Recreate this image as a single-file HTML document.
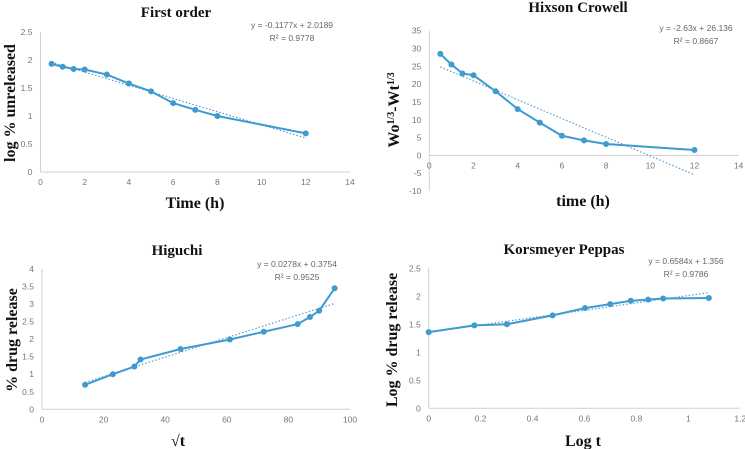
<!DOCTYPE html>
<html><head><meta charset="utf-8"><style>
body{margin:0;background:#fff;width:745px;height:449px;overflow:hidden}
svg{display:block}
.tick{font-family:"Liberation Sans",sans-serif;font-size:8.5px;fill:#777}
.title{font-family:"Liberation Serif",serif;font-weight:bold;font-size:15px;fill:#111}
.axt{font-family:"Liberation Serif",serif;font-weight:bold;font-size:16px;fill:#111}
.eq{font-family:"Liberation Sans",sans-serif;font-size:8.5px;fill:#666}
</style></head><body>
<svg id="s" width="745" height="449"></svg>
<script>
// First order
const foX=[0.5,1,1.5,2,3,4,5,6,7,8,12];
const foY=[1.93,1.88,1.84,1.83,1.74,1.58,1.44,1.23,1.11,1.0,0.69];
const foXTicks=[0,2,4,6,8,10,12,14];
const foYTicks=[0,0.5,1,1.5,2,2.5];
const foTrend=[-0.1177,2.0189];
// Hixson Crowell
const hcX=[0.5,1,1.5,2,3,4,5,6,7,8,12];
const hcY=[28.5,25.5,23,22.5,18,13,9.2,5.5,4.2,3.2,1.5];
const hcXTicks=[0,2,4,6,8,10,12,14];
const hcYTicks=[-10,-5,0,5,10,15,20,25,30,35];
const hcTrend=[-2.63,26.136];
// Higuchi
const hgX=[14,23,30,32,45,61,72,83,87,90,95];
const hgY=[0.7,1.0,1.22,1.42,1.72,1.99,2.21,2.43,2.63,2.81,3.45];
const hgXTicks=[0,20,40,60,80,100];
const hgYTicks=[0,0.5,1,1.5,2,2.5,3,3.5,4];
const hgTrend=[0.0278,0.3754];
// Korsmeyer Peppas
const kpX=[0,0.176,0.301,0.477,0.602,0.699,0.778,0.845,0.903,1.079];
const kpY=[1.36,1.48,1.5,1.66,1.79,1.86,1.92,1.94,1.96,1.97];
const kpXTicks=[0,0.2,0.4,0.6,0.8,1,1.2];
const kpYTicks=[0,0.5,1,1.5,2,2.5];
const kpTrend=[0.6584,1.356];

const NS='http://www.w3.org/2000/svg';
const svg=document.getElementById('s');
function mk(tag,attrs,parent){const e=document.createElementNS(NS,tag);for(const k in attrs)e.setAttribute(k,attrs[k]);(parent||svg).appendChild(e);return e;}

function chart(cfg){
  const g=mk('g',{});
  
  
  const xs=v=>cfg.x0+(v-cfg.xmin)/(cfg.xmax-cfg.xmin)*(cfg.x1-cfg.x0);
  const ys=v=>cfg.y0-(v-cfg.ymin)/(cfg.ymax-cfg.ymin)*(cfg.y0-cfg.y1);
  const yz=ys(Math.max(0,cfg.ymin));
  const xa=mk('line',{x1:cfg.x0,x2:cfg.x1,y1:yz,y2:yz,stroke:'#d0d0d0','stroke-width':1},g);
  
  
  const ya=mk('line',{x1:cfg.x0,x2:cfg.x0,y1:cfg.y1,y2:cfg.y0,stroke:'#d0d0d0','stroke-width':1},g);
  
  
  cfg.xt.forEach(v=>{const t=mk('text',{x:xs(v),y:yz+13,'text-anchor':'middle',class:'tick'},g);t.textContent=v;
    
    });
  cfg.yt.forEach(v=>{const t=mk('text',{x:cfg.x0-8,y:ys(v)+3,'text-anchor':'end',class:'tick'},g);t.textContent=v;
    
    });
  const fx0=cfg.X[0],fx1=cfg.X[cfg.X.length-1];
  const tr=mk('line',{x1:xs(fx0),y1:ys(cfg.tr[0]*fx0+cfg.tr[1]),x2:xs(fx1),y2:ys(cfg.tr[0]*fx1+cfg.tr[1]),stroke:'#5b9bd5','stroke-width':1.2,'stroke-dasharray':'1.5 2'},g);
  
  
  const pts=cfg.X.map((x,i)=>xs(x)+','+ys(cfg.Y[i])).join(' ');
  const pl=mk('polyline',{points:pts,fill:'none',stroke:'#3e9bd0','stroke-width':2},g);
  
  
  cfg.X.forEach((x,i)=>{const c=mk('circle',{cx:xs(x),cy:ys(cfg.Y[i]),r:3,fill:'#3e9bd0'},g);
    
    });
  const ti=mk('text',{x:cfg.tx,y:cfg.ty,'text-anchor':'middle',class:'title'},g);ti.textContent=cfg.title;
  
  
  const e1=mk('text',{x:cfg.ex,y:cfg.ey,'text-anchor':'middle',class:'eq'},g);e1.textContent=cfg.eq;
  
  
  const e2=mk('text',{x:cfg.ex,y:cfg.ey+13,'text-anchor':'middle',class:'eq'},g);e2.textContent=cfg.r2;
  
  
  const xt=mk('text',{x:cfg.xtx,y:cfg.xty,'text-anchor':'middle',class:'axt'},g);xt.innerHTML=cfg.xl;
  
  
  const yt=mk('text',{x:0,y:0,'text-anchor':'middle',class:'axt',transform:`translate(${cfg.ytx},${cfg.yty}) rotate(-90)`},g);yt.innerHTML=cfg.yl;
  
  
}
chart({name:'first-order-chart',X:foX,Y:foY,xt:foXTicks,yt:foYTicks,tr:foTrend,xmin:0,xmax:14,ymin:0,ymax:2.5,x0:40.5,x1:350,y0:172,y1:32,
  title:'First order',tx:176,ty:17,eq:'y = -0.1177x + 2.0189',r2:'R² = 0.9778',ex:292,ey:28,xl:'Time (h)',xtx:195,xty:208,yl:'log % unreleased',ytx:15,yty:103});
chart({name:'hixson-crowell-chart',X:hcX,Y:hcY,xt:hcXTicks,yt:hcYTicks,tr:hcTrend,xmin:0,xmax:14,ymin:-10,ymax:35,x0:429.3,x1:738.7,y0:191,y1:30.7,
  title:'Hixson Crowell',tx:578,ty:12,eq:'y = -2.63x + 26.136',r2:'R² = 0.8667',ex:696,ey:31,xl:'time (h)',xtx:583,xty:206,
  yl:'Wo<tspan baseline-shift="super" font-size="10">1/3</tspan>-Wt<tspan baseline-shift="super" font-size="10">1/3</tspan>',ytx:399,yty:110});
chart({name:'higuchi-chart',X:hgX,Y:hgY,xt:hgXTicks,yt:hgYTicks,tr:hgTrend,xmin:0,xmax:100,ymin:0,ymax:4,x0:42,x1:350,y0:409.3,y1:269,
  title:'Higuchi',tx:177,ty:255,eq:'y = 0.0278x + 0.3754',r2:'R² = 0.9525',ex:297,ey:267,xl:'√t',xtx:178,xty:446,yl:'% drug release',ytx:17,yty:340});
chart({name:'korsmeyer-peppas-chart',X:kpX,Y:kpY,xt:kpXTicks,yt:kpYTicks,tr:kpTrend,xmin:0,xmax:1.2,ymin:0,ymax:2.5,x0:428.7,x1:740.3,y0:408.3,y1:268.3,
  title:'Korsmeyer Peppas',tx:564,ty:254,eq:'y = 0.6584x + 1.356',r2:'R² = 0.9786',ex:686,ey:264,xl:'Log t',xtx:583,xty:446,yl:'Log % drug release',ytx:397,yty:340});
</script>
</body></html>
